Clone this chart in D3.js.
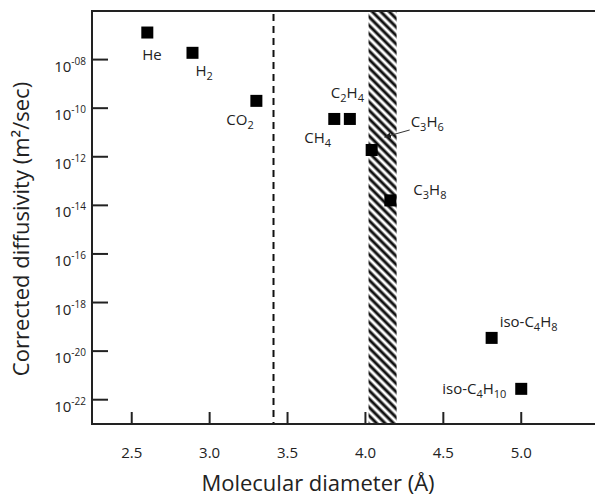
<!DOCTYPE html>
<html>
<head>
<meta charset="utf-8">
<script src="https://cdn.jsdelivr.net/npm/d3@7"></script>
<style>
  body { margin: 0; background: #fff; }
  text { font-family: "Open Sans", sans-serif; fill: #222; }
</style>
</head>
<body>
<svg id="chart" width="595" height="496"></svg>
<script>
// gases, kinetic diameter (Å) and corrected diffusivity (m2/s)
const gases = ['He', 'H2', 'CO2', 'CH4', 'C2H4', 'C3H6', 'C3H8', 'iso-C4H8', 'iso-C4H10'];
const diameters = [2.6, 2.89, 3.3, 3.8, 3.9, 4.04, 4.16, 4.81, 5.0];
const diffusivities = [1.3e-7, 1.9e-8, 2.0e-10, 3.6e-11, 3.6e-11, 1.9e-12, 1.6e-14, 3.5e-20, 2.8e-22];
const xTicks = [2.5, 3.0, 3.5, 4.0, 4.5, 5.0];
const yTicks = [1e-8, 1e-10, 1e-12, 1e-14, 1e-16, 1e-18, 1e-20, 1e-22];
const cutoffDiameter = 3.41;
const bandRange = [4.02, 4.2];

// label offsets relative to the marker centre
const labelOffsets = {
  'He': [-5, 27], 'H2': [3, 23], 'CO2': [-30, 24], 'CH4': [-30, 24], 'C2H4': [-19, -21],
  'C3H6': [39, -23], 'C3H8': [23, -5], 'iso-C4H8': [8, -11], 'iso-C4H10': [-79, 5]
};

const width = 595, height = 496;
const margin = {top: 11, right: 1, bottom: 72, left: 92};

const svg = d3.select('#chart');

const x = d3.scaleLinear()
  .domain([2.245, 5.467])
  .range([margin.left, width - margin.right]);

const y = d3.scaleLog()
  .domain([1e-23, 1e-6])
  .range([height - margin.bottom, margin.top]);

// hatch pattern for the band
const defs = svg.append('defs');
const pat = defs.append('pattern')
  .attr('id', 'hatch')
  .attr('patternUnits', 'userSpaceOnUse')
  .attr('width', 6)
  .attr('height', 6)
  .attr('patternTransform', 'rotate(45)');
pat.append('rect').attr('width', 6).attr('height', 6).attr('fill', '#fff');
pat.append('line')
  .attr('x1', 0).attr('y1', 3).attr('x2', 6).attr('y2', 3)
  .attr('stroke', '#111').attr('stroke-width', 3);

defs.append('marker')
  .attr('id', 'arrow')
  .attr('viewBox', '0 0 10 10')
  .attr('refX', 9).attr('refY', 5)
  .attr('markerWidth', 7).attr('markerHeight', 7)
  .attr('orient', 'auto')
  .append('path')
  .attr('d', 'M0,1 L10,5 L0,9 Z')
  .attr('fill', '#222');

const plotTop = y.range()[1];
const plotBottom = y.range()[0];

svg.append('rect')
  .attr('x', x(bandRange[0]))
  .attr('y', plotTop)
  .attr('width', x(bandRange[1]) - x(bandRange[0]))
  .attr('height', plotBottom - plotTop)
  .attr('fill', 'url(#hatch)');

svg.append('line')
  .attr('x1', x(cutoffDiameter)).attr('x2', x(cutoffDiameter))
  .attr('y1', plotTop + 3).attr('y2', plotBottom)
  .attr('stroke', '#111')
  .attr('stroke-width', 2)
  .attr('stroke-dasharray', '7,5');

// frame: top, left and bottom only
const frame = svg.append('g')
  .attr('fill', 'none')
  .attr('stroke', '#222')
  .attr('stroke-width', 2);
frame.append('path')
  .attr('d', `M${width},${plotTop} H${margin.left} V${plotBottom} H${width}`);

// x ticks (inward)
const xAxis = svg.append('g');
xAxis.selectAll('line')
  .data(xTicks)
  .enter()
  .append('line')
  .attr('x1', d => x(d)).attr('x2', d => x(d))
  .attr('y1', plotBottom).attr('y2', plotBottom - 12)
  .attr('stroke', '#222').attr('stroke-width', 2);
xAxis.selectAll('text')
  .data(xTicks)
  .enter()
  .append('text')
  .attr('x', d => x(d))
  .attr('y', plotBottom + 34)
  .attr('text-anchor', 'middle')
  .style('font-size', '15px')
  .text(d3.format('.1f'));

// y ticks (inward)
const yAxis = svg.append('g');
yAxis.selectAll('line')
  .data(yTicks)
  .enter()
  .append('line')
  .attr('x1', margin.left).attr('x2', margin.left + 16)
  .attr('y1', d => y(d)).attr('y2', d => y(d))
  .attr('stroke', '#222').attr('stroke-width', 2);
const yLabels = yAxis.selectAll('text')
  .data(yTicks)
  .enter()
  .append('text')
  .attr('x', margin.left - 6)
  .attr('y', d => y(d) + 12)
  .attr('text-anchor', 'end')
  .style('font-size', '15px');
yLabels.append('tspan').text('10');
yLabels.append('tspan')
  .attr('dy', -7)
  .style('font-size', '10px')
  .text(d => {
    const e = Math.round(Math.log10(d));
    return '-' + String(Math.abs(e)).padStart(2, '0');
  });

// markers
const size = 12;
svg.selectAll('rect.pt')
  .data(gases)
  .enter()
  .append('rect')
  .attr('class', 'pt')
  .attr('x', (d, i) => x(diameters[i]) - size / 2)
  .attr('y', (d, i) => y(diffusivities[i]) - size / 2)
  .attr('width', size)
  .attr('height', size)
  .attr('fill', '#000');

// labels with subscript digits
function addFormula (sel, name) {
  const parts = name.match(/[A-Za-z\-]+|\d+/g);
  let sub = false;
  parts.forEach(p => {
    const isNum = /^\d+$/.test(p);
    const t = sel.append('tspan').text(p);
    if (isNum && !sub) {
      t.attr('dy', 4).style('font-size', '11px');
      sub = true;
    } else if (!isNum && sub) {
      t.attr('dy', -4);
      sub = false;
    } else if (isNum) {
      t.style('font-size', '11px');
    }
  });
}

gases.forEach((g, i) => {
  const off = labelOffsets[g];
  const t = svg.append('text')
    .attr('x', x(diameters[i]) + off[0])
    .attr('y', y(diffusivities[i]) + off[1])
    .style('font-size', '15px');
  addFormula(t, g);
});

// arrow for C3H6
const c3h6 = gases.indexOf('C3H6');
svg.append('line')
  .attr('x1', x(diameters[c3h6]) + 38)
  .attr('y1', y(diffusivities[c3h6]) - 20)
  .attr('x2', x(diameters[c3h6]) + 13)
  .attr('y2', y(diffusivities[c3h6]) - 13)
  .attr('stroke', '#333')
  .attr('stroke-width', 1)
  .attr('marker-end', 'url(#arrow)');

// axis titles
svg.append('text')
  .attr('x', 318)
  .attr('y', 491)
  .attr('text-anchor', 'middle')
  .style('font-size', '22px')
  .text('Molecular diameter (Å)');

svg.append('text')
  .attr('transform', 'translate(29,229) rotate(-90)')
  .attr('text-anchor', 'middle')
  .style('font-size', '22px')
  .text('Corrected diffusivity (m²/sec)');
</script>
</body>
</html>
